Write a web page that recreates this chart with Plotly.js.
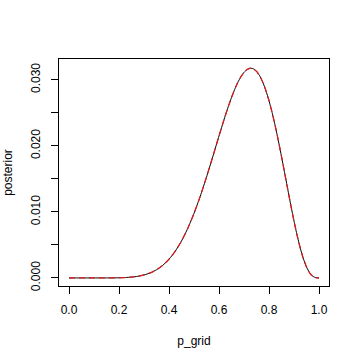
<!DOCTYPE html>
<html>
<head>
<meta charset="utf-8">
<script src="https://cdn.plot.ly/plotly-3.0.1.min.js"></script>
<style>html,body{margin:0;padding:0;background:#fff;}#chart{width:360px;height:360px;}</style>
</head>
<body>
<div id="chart"></div>
<script>
var p_grid = [0, 0.025, 0.05, 0.075, 0.1, 0.125, 0.15, 0.175, 0.2, 0.225, 0.25, 0.275, 0.3, 0.325, 0.35, 0.375, 0.4, 0.425, 0.45, 0.475, 0.5, 0.525, 0.55, 0.575,
  0.6, 0.6125, 0.625, 0.6375, 0.65, 0.6625, 0.675, 0.6875, 0.7, 0.7125, 0.725, 0.7375, 0.75, 0.7625, 0.775, 0.7875, 0.8, 0.8125, 0.825, 0.8375, 0.85, 0.8625, 0.875, 0.8875, 0.9, 0.9125, 0.925, 0.9375, 0.95, 0.9625, 0.975, 0.9875, 1];
var posterior = [0, 0, 0, 0.00000002, 0.00000015, 0.0000009, 0.0000031, 0.000010, 0.0000262, 0.0000612, 0.0001288, 0.0002493, 0.0004501, 0.0007657, 0.0012369, 0.0019095, 0.0028312, 0.0040471, 0.0055952, 0.0075001, 0.0097656, 0.012370, 0.015261, 0.018345,
  0.021499, 0.023044, 0.024556, 0.025978, 0.027323, 0.028520, 0.029587, 0.030457, 0.031130, 0.031554, 0.031750, 0.031661, 0.031285, 0.030618, 0.029648, 0.028384, 0.026844, 0.025040, 0.023002, 0.020770, 0.018393, 0.015922, 0.013422, 0.010960, 0.0086093, 0.0064404, 0.0045222, 0.0029137, 0.0016586, 0.0007768, 0.0002552, 0.0000353, 0];
var posterior_check = posterior.slice();
var xTicks = [0, 0.2, 0.4, 0.6, 0.8, 1.0];
var xTickText = ["0.0", "0.2", "0.4", "0.6", "0.8", "1.0"];
var yTicks = [0, 0.005, 0.010, 0.015, 0.020, 0.025, 0.030];
var yTickText = ["0.000", "", "0.010", "", "0.020", "", "0.030"];

var traces = [
  {x: p_grid, y: posterior, mode: 'lines', line: {color: '#000000', width: 1, shape: 'spline', smoothing: 0.5}, hoverinfo: 'none'},
  {x: p_grid, y: posterior_check, mode: 'lines', line: {color: '#dd1c1c', width: 1.3, dash: '6px,4px', shape: 'spline', smoothing: 0.5}, hoverinfo: 'none'}
];
var font = {family: 'Liberation Sans, Arial, sans-serif', size: 12, color: '#000'};
var layout = {
  width: 360, height: 360,
  margin: {l: 59, r: 31, t: 59, b: 74, pad: 0},
  paper_bgcolor: '#fff', plot_bgcolor: '#fff',
  showlegend: false,
  font: font,
  xaxis: {
    range: [-0.04, 1.04], tickmode: 'array', tickvals: xTicks, ticktext: xTickText,
    ticks: 'outside', ticklen: 7, tickwidth: 1, tickcolor: '#000',
    showline: true, mirror: true, linecolor: '#000', linewidth: 1,
    showgrid: false, zeroline: false, tickfont: font, ticklabelstandoff: 6,
    title: {text: 'p_grid', font: font, standoff: 20}
  },
  yaxis: {
    range: [-0.00122, 0.03315], tickmode: 'array', tickvals: yTicks, ticktext: yTickText,
    ticks: 'outside', ticklen: 7, tickwidth: 1, tickcolor: '#000', tickangle: -90,
    showline: true, mirror: true, linecolor: '#000', linewidth: 1,
    showgrid: false, zeroline: false, tickfont: font, ticklabelstandoff: 6,
    title: {text: 'posterior', font: font, standoff: 14}
  }
};
Plotly.newPlot('chart', traces, layout, {staticPlot: true, displayModeBar: false});
</script>
</body>
</html>
